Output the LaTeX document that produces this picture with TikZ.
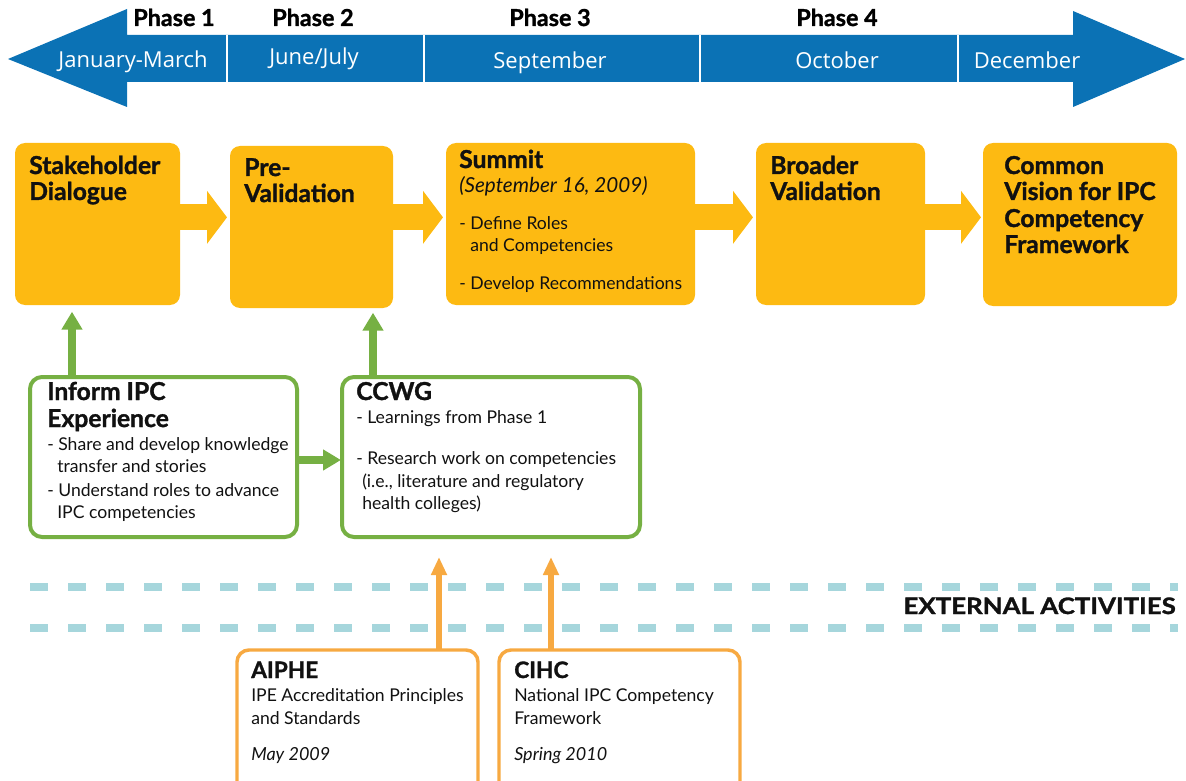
\documentclass[tikz,border=0pt]{standalone}
\usepackage{fontspec}
\setmainfont{Lato}[BoldFeatures={FakeBold=1.3}]
\newfontfamily\monthfont{Open Sans}
\usetikzlibrary{arrows.meta,fit}
\definecolor{tlblue}{HTML}{0B72B5}
\definecolor{yel}{HTML}{FDBA12}
\definecolor{grn}{HTML}{76B043}
\definecolor{org}{HTML}{F7A941}
\definecolor{dashteal}{HTML}{A6D6DC}
\definecolor{txt}{HTML}{111111}
\begin{document}
\begin{tikzpicture}[x=0.75pt,y=-0.75pt,
  ybox/.style={fill=yel, rounded corners=7.5pt, inner sep=0pt, outer sep=0pt},
  gbox/.style={draw=grn, line width=3pt, fill=white, rounded corners=9pt, inner sep=0pt, outer sep=0pt},
  obox/.style={draw=org, line width=2.6pt, fill=white, rounded corners=9pt, inner sep=0pt, outer sep=0pt},
  yarrow/.style={draw=yel, line width=19.5pt, -{Triangle[length=15pt,width=39pt]}},
  garrow/.style={draw=grn, line width=6pt, -{Triangle[length=13.5pt,width=15pt]}},
  oarrow/.style={draw=org, line width=4.5pt, -{Triangle[length=13.5pt,width=11.25pt]}},
  hd/.style={anchor=base west, inner sep=0pt, text=txt, font=\fontsize{18.5}{20}\selectfont\bfseries},
  shd/.style={anchor=base west, inner sep=0pt, text=txt, font=\fontsize{17}{18}\selectfont\bfseries},
  bd/.style={anchor=base west, inner sep=0pt, text=txt, font=\fontsize{13.2}{16}\selectfont},
  bdi/.style={anchor=base west, inner sep=0pt, text=txt, font=\fontsize{13.5}{16}\selectfont\itshape},
  bdil/.style={anchor=base west, inner sep=0pt, text=txt, font=\fontsize{15.5}{18}\selectfont\itshape},
  phase/.style={anchor=base, inner sep=0pt, text=black, font=\fontsize{17.5}{18}\selectfont\bfseries},
  month/.style={anchor=base, inner sep=0pt, text=white, font=\monthfont\fontsize{16.5}{18}\selectfont},
  dashline/.style={draw=dashteal, line width=6pt, dash pattern=on 13.5pt off 15pt}
]
\useasboundingbox (0,0) rectangle (1186,781);
\clip (0,0) rectangle (1186,781);

% timeline arrow
\fill[tlblue] (8,59) -- (127,9) -- (127,35) -- (1073,35) -- (1073,11) -- (1185,59)
  -- (1073,107) -- (1073,82) -- (127,82) -- (127,107) -- cycle;
\foreach \x in {227,424,700,958} \draw[white, line width=1.1pt] (\x,35) -- (\x,82);

\node[phase] (p1) at (174,26) {Phase 1};
\node[phase] (p2) at (313,26) {Phase 2};
\node[phase] (p3) at (550,26) {Phase 3};
\node[phase] (p4) at (837,26) {Phase 4};
\node[month] (m1) at (133,68) {January-March};
\node[month] (m2) at (314,65) {June/July};
\node[month] (m3) at (550,69) {September};
\node[month] (m4) at (837,69) {October};
\node[month] (m5) at (1027,69) {December};

% yellow boxes
\node[ybox, fit={(15,143) (180,305)}] (b1) {};
\node[ybox, fit={(230,146) (393,308)}] (b2) {};
\node[ybox, fit={(446,143) (695,305)}] (b3) {};
\node[ybox, fit={(756,143) (925,305)}] (b4) {};
\node[ybox, fit={(983,143) (1177,306)}] (b5) {};

\draw[yarrow, shorten >=2.25pt] ([yshift=5pt]b1.east) -- ([yshift=5pt]b1.east -| b2.west);
\draw[yarrow, shorten >=2.25pt] ([yshift=5pt]b2.east |- b1.east) -- ([yshift=5pt]b1.east -| b3.west);
\draw[yarrow, shorten >=2.25pt] ([yshift=5pt]b3.east) -- ([yshift=5pt]b3.east -| b4.west);
\draw[yarrow, shorten >=1.5pt] ([yshift=5pt]b4.east) -- ([yshift=5pt]b4.east -| b5.west);

% green boxes
\node[gbox, fit={(30,377) (297,537)}] (inf) {};
\node[gbox, fit={(342,377) (640,537)}] (ccwg) {};

\coordinate (g1s) at (72,377);
\coordinate (g2s) at (373,377);
\draw[garrow, shorten >=5pt] (g1s) -- (g1s |- b1.south);
\draw[garrow, shorten >=3.5pt] (g2s) -- (g2s |- b2.south);
\draw[garrow, shorten >=0.75pt] ([yshift=-2.25pt]inf.east) -- ([yshift=-2.25pt]inf.east -| ccwg.west);

% external activities
\draw[dashline] (30,587) -- (1178,587);
\draw[dashline] (30,628) -- (1178,628);
\node[anchor=base east, inner sep=0pt, text=txt, font=\fontsize{17}{18}\selectfont\bfseries] (ext) at (1176,614) {\scalebox{1.14}[1]{EXTERNAL ACTIVITIES}};

% orange boxes
\node[obox, fit={(237,650) (478,800)}] (aiphe) {};
\node[obox, fit={(499,650) (740,800)}] (cihc) {};
\coordinate (o1s) at (439,650);
\coordinate (o2s) at (551,650);
\draw[oarrow, shorten >=15pt] (o1s) -- (o1s |- ccwg.south);
\draw[oarrow, shorten >=15pt] (o2s) -- (o2s |- ccwg.south);

% texts in yellow boxes
\node[hd] (t11) at (29,174) {Stakeholder};
\node[hd] (t12) at (29,200) {Dialogue};
\node[hd] (t21) at (244,176) {Pre-};
\node[hd] (t22) at (244,202) {Validation};
\node[hd] (t31) at (459,168) {Summit};
\node[bdil] (t32) at (459,193) {(September 16, 2009)};
\node[bd] (t33) at (459,230) {- Define Roles};
\node[bd] (t34) at (470,252) {and Competencies};
\node[bd] (t35) at (459,289) {- Develop Recommendations};
\node[hd] (t41) at (770,174) {Broader};
\node[hd] (t42) at (770,200) {Validation};
\node[hd] (t51) at (1004,174) {Common};
\node[hd] (t52) at (1004,200) {Vision for IPC};
\node[hd] (t53) at (1004,227) {Competency};
\node[hd] (t54) at (1004,253) {Framework};

% texts in green boxes
\node[hd] (i1) at (47,400) {Inform IPC};
\node[hd] (i2) at (47,427) {Experience};
\node[bd] (i3) at (47,450) {- Share and develop knowledge};
\node[bd] (i4) at (57,472) {transfer and stories};
\node[bd] (i5) at (47,496) {- Understand roles to advance};
\node[bd] (i6) at (57,518) {IPC competencies};
\node[hd] (c1) at (356,400) {CCWG};
\node[bd] (c2) at (356,423) {- Learnings from Phase 1};
\node[bd] (c3) at (356,464) {- Research work on competencies};
\node[bd] (c4) at (362,487) {(i.e., literature and regulatory};
\node[bd] (c5) at (362,509) {health colleges)};

% texts in orange boxes
\node[shd] (a1) at (251,678) {AIPHE};
\node[bd] (a2) at (251,701) {IPE Accreditation Principles};
\node[bd] (a3) at (251,724) {and Standards};
\node[bdi] (a4) at (251,760) {May 2009};
\node[shd] (h1) at (514,678) {CIHC};
\node[bd] (h2) at (514,701) {National IPC Competency};
\node[bd] (h3) at (514,724) {Framework};
\node[bdi] (h4) at (514,760) {Spring 2010};
\end{tikzpicture}
\end{document}
